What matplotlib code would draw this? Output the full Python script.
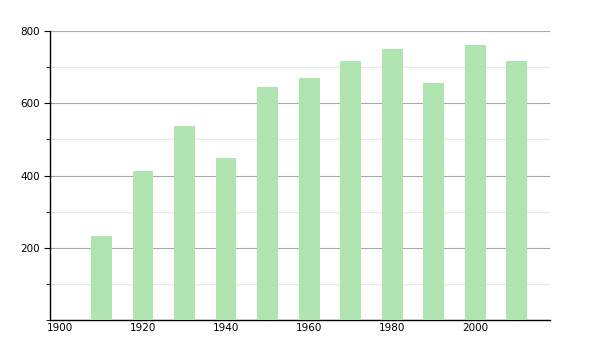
import matplotlib
matplotlib.use("Agg")
import matplotlib.pyplot as plt
from matplotlib.ticker import MultipleLocator

years = [1910, 1920, 1930, 1940, 1950, 1960, 1970, 1980, 1990, 2000, 2010]
population = [233, 413, 537, 449, 645, 669, 717, 750, 657, 762, 717]
xticks = [1900, 1920, 1940, 1960, 1980, 2000]

fig = plt.figure(figsize=(6, 3.5), dpi=100)
ax = fig.add_axes([50 / 600, 30 / 350, 500 / 600, 289 / 350])

ax.bar(years, population, width=5, color="#b0e4b0", zorder=3)

ax.set_xlim(1897.6, 2018)
ax.set_ylim(0, 800)
ax.set_xticks(xticks)
ax.set_yticks([200, 400, 600, 800])
ax.yaxis.set_minor_locator(MultipleLocator(100))

ax.grid(axis="y", which="major", color="#aaaaaa", linewidth=0.8, zorder=0)
ax.grid(axis="y", which="minor", color="#e6e6e6", linewidth=0.8, zorder=0)

for side in ["top", "right"]:
    ax.spines[side].set_visible(False)
ax.spines["left"].set_linewidth(1)
ax.spines["bottom"].set_linewidth(1)

ax.tick_params(axis="x", length=0, labelsize=7.5, pad=2)
ax.tick_params(axis="y", which="major", length=4, labelsize=7.5, pad=3)
ax.tick_params(axis="y", which="minor", length=3)

fig.savefig("out.png", dpi=100)
